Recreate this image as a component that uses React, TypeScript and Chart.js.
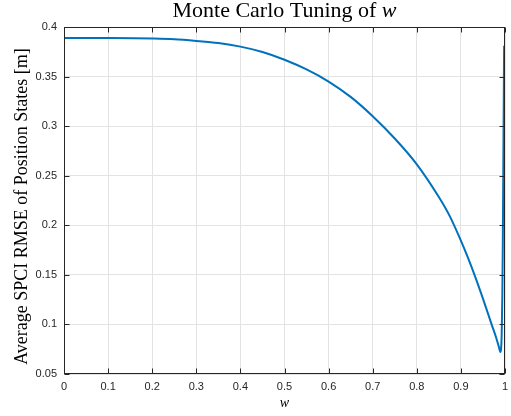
import React, { useEffect, useRef } from "react";
import { Chart, registerables } from "chart.js";

Chart.register(...registerables);

const wValues = [
  0, 0.1, 0.2, 0.25, 0.3, 0.35, 0.4, 0.45, 0.5, 0.55, 0.6, 0.65, 0.7, 0.75, 0.8,
  0.85, 0.875, 0.9, 0.915, 0.93, 0.95, 0.97, 0.98, 0.985, 0.988, 0.9895, 0.991,
  0.9925, 0.994, 0.995, 0.9965, 0.998,
];
const rmseValues = [
  0.389, 0.3889, 0.3884, 0.3877, 0.386, 0.3838, 0.3802, 0.3748, 0.367, 0.3572,
  0.345, 0.3295, 0.31, 0.2875, 0.2615, 0.2285, 0.209, 0.1845, 0.1683, 0.151,
  0.126, 0.0996, 0.0866, 0.079, 0.074, 0.0722, 0.075, 0.09, 0.13, 0.18, 0.28,
  0.381,
];
const xTicks = [0, 0.1, 0.2, 0.3, 0.4, 0.5, 0.6, 0.7, 0.8, 0.9, 1];
const yTicks = [0.05, 0.1, 0.15, 0.2, 0.25, 0.3, 0.35, 0.4];
const titleMain = "Monte Carlo Tuning of ";
const titleVar = "w";
const yLabel = "Average SPCI RMSE of Position States [m]";
const xLabel = "w";

const AXIS_COLOR = "#262626";
const SERIF = "'Liberation Serif', 'Times New Roman', serif";
const SANS = "'Liberation Sans', Arial, sans-serif";

export default function App() {
  const ref = useRef<HTMLCanvasElement>(null);

  useEffect(() => {
    document.body.style.margin = "0";
    const canvas = ref.current!;

    const framePlugin = {
      id: "matlabFrame",
      afterDraw(chart: any) {
        const { ctx, chartArea: a, scales } = chart;
        const L = Math.round(a.left) + 0.5;
        const R = Math.round(a.right) - 0.5;
        const T = Math.round(a.top) + 0.5;
        const B = Math.round(a.bottom) - 0.5;
        ctx.save();
        ctx.strokeStyle = AXIS_COLOR;
        ctx.lineWidth = 1;
        ctx.strokeRect(L, T, R - L, B - T);
        const tl = 5;
        ctx.beginPath();
        for (const v of xTicks) {
          const x = Math.round(scales.x.getPixelForValue(v)) + 0.5;
          ctx.moveTo(x, B);
          ctx.lineTo(x, B - tl);
          ctx.moveTo(x, T);
          ctx.lineTo(x, T + tl);
        }
        for (const v of yTicks) {
          const y = Math.round(scales.y.getPixelForValue(v)) + 0.5;
          ctx.moveTo(L, y);
          ctx.lineTo(L + tl, y);
          ctx.moveTo(R, y);
          ctx.lineTo(R - tl, y);
        }
        ctx.stroke();

        // Title
        ctx.fillStyle = "#000";
        ctx.textBaseline = "alphabetic";
        const cx = (a.left + a.right) / 2;
        const mainFont = `22px ${SERIF}`;
        const varFont = `italic 22px ${SERIF}`;
        ctx.font = mainFont;
        const w1 = ctx.measureText(titleMain).width;
        ctx.font = varFont;
        const w2 = ctx.measureText(titleVar).width;
        const start = cx - (w1 + w2) / 2;
        ctx.textAlign = "left";
        ctx.font = mainFont;
        ctx.fillText(titleMain, start, 17);
        ctx.font = varFont;
        ctx.fillText(titleVar, start + w1, 17);

        // X label
        ctx.font = `italic 14px ${SERIF}`;
        ctx.textAlign = "center";
        ctx.fillText(xLabel, cx, 407);

        // Y label
        ctx.save();
        ctx.translate(27, (a.top + a.bottom) / 2 + 6);
        ctx.rotate(-Math.PI / 2);
        ctx.font = `18px ${SERIF}`;
        ctx.textAlign = "center";
        ctx.fillText(yLabel, 0, 0);
        ctx.restore();

        ctx.restore();
      },
    };

    const chart = new Chart(canvas, {
      type: "line",
      data: {
        datasets: [
          {
            data: wValues.map((w, i) => ({ x: w, y: rmseValues[i] })),
            borderColor: "#0072BD",
            borderWidth: 2,
            pointRadius: 0,
            cubicInterpolationMode: "monotone",
            fill: false,
          },
        ],
      },
      options: {
        animation: false,
        responsive: false,
        maintainAspectRatio: false,
        layout: { padding: { top: 27, right: 6, left: 0, bottom: 0 } },
        plugins: {
          legend: { display: false },
          title: { display: false },
          tooltip: { enabled: false },
        },
        scales: {
          x: {
            type: "linear",
            min: 0,
            max: 1,
            afterFit: (s: any) => {
              s.height = 42;
              s.paddingLeft = 0;
              s.paddingRight = 0;
            },
            afterBuildTicks: (s: any) => {
              s.ticks = xTicks.map((v) => ({ value: v }));
            },
            grid: { color: "#e3e3e3", drawTicks: false },
            border: { display: false },
            ticks: {
              padding: 6,
              color: AXIS_COLOR,
              font: { family: SANS, size: 11 },
              maxRotation: 0,
              autoSkip: false,
              callback: (v: any) => String(v),
            },
          },
          y: {
            type: "linear",
            min: 0.05,
            max: 0.4,
            afterFit: (s: any) => {
              s.width = 64;
              s.paddingTop = 0;
              s.paddingBottom = 0;
            },
            afterBuildTicks: (s: any) => {
              s.ticks = yTicks.map((v) => ({ value: v }));
            },
            grid: { color: "#e3e3e3", drawTicks: false },
            border: { display: false },
            ticks: {
              padding: 7,
              color: AXIS_COLOR,
              font: { family: SANS, size: 11 },
              autoSkip: false,
              callback: (v: any) => String(v),
            },
          },
        },
      },
      plugins: [framePlugin],
    } as any);

    return () => chart.destroy();
  }, []);

  return (
    <div style={{ position: "absolute", left: 0, top: 0, width: 511, height: 416, background: "#fff" }}>
      <canvas ref={ref} width={511} height={416} />
    </div>
  );
}
